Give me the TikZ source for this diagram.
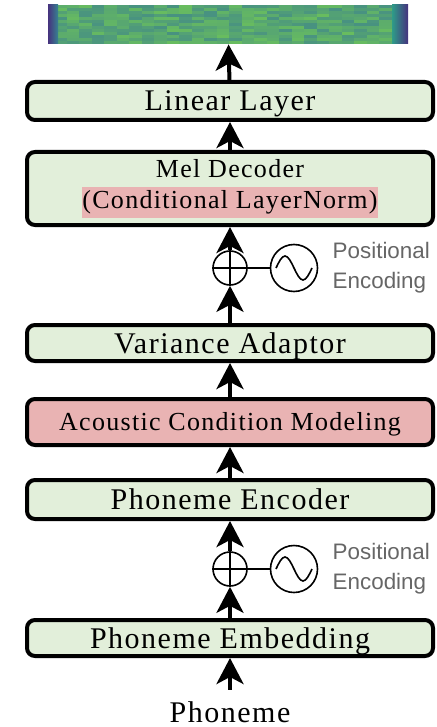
\documentclass[tikz,border=0pt]{standalone}
\usepackage{fontspec}
\setmainfont{Liberation Serif}
\newfontfamily\capafont{Liberation Serif}[LetterSpace=5]
\newfontfamily\rotulofont{Liberation Sans}
\usetikzlibrary{arrows.meta,positioning}

\definecolor{verde}{HTML}{E2EFDA}
\definecolor{rojo}{HTML}{E9B3B3}
\definecolor{gris}{HTML}{666666}
\definecolor{vmorado}{HTML}{46327E}
\definecolor{vazul}{HTML}{3E7196}
\definecolor{vteal}{HTML}{2E9C88}
\definecolor{vverde}{HTML}{86D14A}

\newcommand\grande{\capafont\fontsize{15}{18}\selectfont}
\newcommand\chica{\capafont\fontsize{13}{15.6}\selectfont}

\tikzset{
  caja/.style={draw, line width=2pt, rounded corners=4pt, fill=verde,
    minimum width=203pt, inner sep=0pt},
  capa/.style={caja, text height=10pt, text depth=0pt},
  flecha/.style={line width=2pt, -{Stealth[length=13pt, width=13.5pt, inset=3.5pt]}},
  suma/.style={draw, circle, line width=0.8pt, minimum size=17pt, inner sep=0pt},
  onda/.style={draw, circle, line width=0.8pt, minimum size=23.5pt, inner sep=0pt},
  codpos/.style={align=left, inner sep=0pt, text=gris,
    font=\rotulofont\fontsize{11.2}{15}\selectfont}
}

\begin{document}
\begin{tikzpicture}[x=0.5pt, y=-0.5pt]
\useasboundingbox (0,0) rectangle (436,727);

% Espectrograma
\node[minimum width=180pt, minimum height=19.5pt, inner sep=0pt] (espectro) at (228,24.5) {};
\begin{scope}
  \clip (48,5) rectangle (408,44);
  \fill[vteal] (48,5) rectangle (408,44);
  \pgfmathsetseed{11}
  \foreach \i in {0,...,27} \foreach \j in {0,...,12} {
    \pgfmathsetmacro\mezcla{int(30+65*rnd)}
    \fill[vverde!\mezcla!vazul, opacity=0.7] (54+\i*12.5, 5+\j*3) rectangle ++(12.5,3);
  }
  \fill[left color=vmorado, right color=vazul!60!vteal] (48,5) rectangle (58,44);
  \fill[left color=vteal, right color=vmorado] (392,5) rectangle (408,44);
\end{scope}

% Capas
\node[capa, minimum height=19pt] (lineal) at (230,101) {\grande Linear Layer};
\node[caja, minimum height=36.5pt, align=center, font=\chica] (decoder) at (230,188.5)
  {Mel Decoder\\ {\setlength\fboxsep{0pt}\colorbox{rojo}{\strut(Conditional LayerNorm)}}};
\node[capa, minimum height=18pt] (varianza) at (230,343) {\grande Variance Adaptor};
\node[capa, minimum height=23pt, fill=rojo, text height=8.8pt, font=\chica] (acustico) at (230,422) {Acoustic Condition Modeling};
\node[capa, minimum height=19.5pt] (encoder) at (230,499.5) {\grande Phoneme Encoder};
\node[capa, minimum height=18pt] (embedding) at (230,638) {\grande Phoneme Embedding};

% Entrada
\node[inner sep=6pt, text height=10pt, text depth=0pt] (fonema) at (230,712) {\grande Phoneme};

% Codificacion posicional (decoder)
\node[suma] (suma1) at (230,268) {};
\draw[line width=0.8pt] (suma1.north) -- (suma1.south) (suma1.west) -- (suma1.east);
\node[onda] (onda1) at (294,268) {};
\draw[line width=0.8pt] ([xshift=-9pt]onda1.center) sin ++(4.5pt,6pt) cos ++(4.5pt,-6pt)
  sin ++(4.5pt,-6pt) cos ++(4.5pt,6pt);
\draw[line width=0.8pt] (suma1) -- (onda1);
\node[codpos, right=7pt of onda1] (pe1) {Positional\\Encoding};

% Codificacion posicional (encoder)
\node[suma] (suma2) at (230,569) {};
\draw[line width=0.8pt] (suma2.north) -- (suma2.south) (suma2.west) -- (suma2.east);
\node[onda] (onda2) at (294,569) {};
\draw[line width=0.8pt] ([xshift=-9pt]onda2.center) sin ++(4.5pt,6pt) cos ++(4.5pt,-6pt)
  sin ++(4.5pt,-6pt) cos ++(4.5pt,6pt);
\draw[line width=0.8pt] (suma2) -- (onda2);
\node[codpos, right=7pt of onda2] (pe2) {Positional\\Encoding};

% Flechas
\draw[flecha] (fonema) -- (embedding);
\draw[flecha] (embedding) -- (suma2);
\draw[flecha] (suma2) -- (encoder);
\draw[flecha] (encoder) -- (acustico);
\draw[flecha] (acustico) -- (varianza);
\draw[flecha] (varianza) -- (suma1);
\draw[flecha] (suma1) -- (decoder);
\draw[flecha] (decoder) -- (lineal);
\draw[flecha] (lineal) -- (espectro);

\end{tikzpicture}
\end{document}
